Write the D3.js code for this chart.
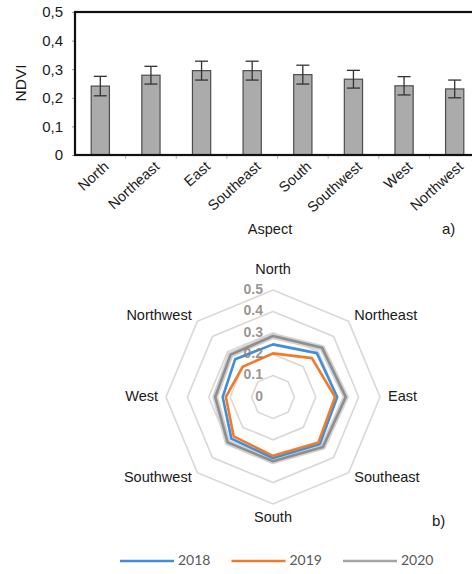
<!DOCTYPE html>
<html>
<head>
<meta charset="utf-8">
<script src="https://cdn.jsdelivr.net/npm/d3@7/dist/d3.min.js"></script>
<style>
  html, body { margin: 0; padding: 0; background: #ffffff; }
  svg { display: block; }
</style>
</head>
<body>
<svg id="fig" width="472" height="574"></svg>
<script>
// Aspect classes shared by both panels
const aspects = ["North", "Northeast", "East", "Southeast", "South", "Southwest", "West", "Northwest"];

// Panel a) mean NDVI per aspect with error bars
const ndviMean = [0.241, 0.279, 0.295, 0.295, 0.281, 0.265, 0.242, 0.231];
const ndviErr  = [0.034, 0.031, 0.033, 0.033, 0.033, 0.031, 0.032, 0.031];
const barTicks = [0, 0.1, 0.2, 0.3, 0.4, 0.5];

// Panel b) NDVI per aspect by year
const years = ["2018", "2019", "2020"];
const ndvi2018 = [0.246, 0.290, 0.300, 0.310, 0.285, 0.275, 0.235, 0.250];
const ndvi2019 = [0.204, 0.257, 0.290, 0.300, 0.275, 0.260, 0.220, 0.200];
const ndvi2020 = [0.285, 0.325, 0.340, 0.330, 0.300, 0.300, 0.270, 0.280];
const radarTicks = [0, 0.1, 0.2, 0.3, 0.4, 0.5];

const svg = d3.select("#fig");
const FONT = "'Liberation Sans', Arial, sans-serif";

/* ---------- panel a) bar chart ---------- */
const a = { left: 75, right: 480, top: 12, bottom: 155 };
const x = d3.scaleBand().domain(aspects).range([a.left, a.right])
  .paddingInner(0.64).paddingOuter(0.32);
const y = d3.scaleLinear().domain([0, 0.5]).range([a.bottom, a.top]);
const commaFmt = d3.formatLocale({ decimal: ",", thousands: " ", grouping: [3], currency: ["", ""] }).format(".1f");

const gA = svg.append("g");

// y axis labels and small ticks
const yAxis = d3.axisLeft(y).tickValues(barTicks).tickSize(3).tickPadding(9)
  .tickFormat(d => d === 0 ? "0" : commaFmt(d));
const gy = gA.append("g").attr("transform", `translate(${a.left},0)`).call(yAxis);
gy.select(".domain").remove();
gy.selectAll(".tick line").attr("stroke", "#9a9a9a");
gy.selectAll(".tick text").attr("font-family", FONT).attr("font-size", 15).attr("fill", "#1a1a1a");

// faint x ticks between categories
gA.selectAll("line.xt").data(aspects.slice(1)).join("line")
  .attr("class", "xt")
  .attr("x1", c => x(c) - (x.step() - x.bandwidth()) / 2)
  .attr("x2", c => x(c) - (x.step() - x.bandwidth()) / 2)
  .attr("y1", a.bottom).attr("y2", a.bottom + 4)
  .attr("stroke", "#bbbbbb").attr("stroke-width", 1);

// bars
gA.selectAll("rect.bar").data(aspects).join("rect")
  .attr("class", "bar")
  .attr("x", c => x(c))
  .attr("y", (c, i) => y(ndviMean[i]))
  .attr("width", x.bandwidth())
  .attr("height", (c, i) => a.bottom - y(ndviMean[i]))
  .attr("fill", "#ababab").attr("stroke", "#4d4d4d").attr("stroke-width", 1.2);

// error bars
const eb = gA.selectAll("g.err").data(aspects).join("g").attr("class", "err")
  .attr("transform", c => `translate(${x(c) + x.bandwidth() / 2},0)`);
eb.append("line")
  .attr("y1", (c, i) => y(ndviMean[i] + ndviErr[i]))
  .attr("y2", (c, i) => y(ndviMean[i] - ndviErr[i]))
  .attr("stroke", "#333").attr("stroke-width", 1.3);
[1, -1].forEach(s => {
  eb.append("line")
    .attr("x1", -6.5).attr("x2", 6.5)
    .attr("y1", (c, i) => y(ndviMean[i] + s * ndviErr[i]))
    .attr("y2", (c, i) => y(ndviMean[i] + s * ndviErr[i]))
    .attr("stroke", "#333").attr("stroke-width", 1.3);
});

// frame
gA.append("rect")
  .attr("x", a.left).attr("y", a.top)
  .attr("width", a.right - a.left).attr("height", a.bottom - a.top)
  .attr("fill", "none").attr("stroke", "#111").attr("stroke-width", 2.2);

// category labels
gA.selectAll("text.xl").data(aspects).join("text")
  .attr("class", "xl")
  .attr("transform", c => `translate(${x(c) + x.bandwidth() / 2 + 7},${a.bottom + 10}) rotate(-42)`)
  .attr("text-anchor", "end")
  .attr("dominant-baseline", "middle")
  .attr("font-family", FONT).attr("font-size", 14.5).attr("fill", "#1a1a1a")
  .text(c => c);

gA.append("text").attr("x", 270).attr("y", 234).attr("text-anchor", "middle")
  .attr("font-family", FONT).attr("font-size", 14.5).attr("fill", "#1a1a1a").text("Aspect");
gA.append("text").attr("x", 442).attr("y", 234)
  .attr("font-family", FONT).attr("font-size", 15).attr("fill", "#1a1a1a").text("a)");
gA.append("text").attr("transform", "translate(26,83) rotate(-90)").attr("text-anchor", "middle")
  .attr("font-family", FONT).attr("font-size", 15.5).attr("fill", "#1a1a1a").text("NDVI");

/* ---------- panel b) radar chart ---------- */
const cx = 273, cy = 397;
const r = d3.scaleLinear().domain([0, 0.5]).range([0, 107]);
const ang = d3.scaleLinear().domain([0, aspects.length]).range([0, 2 * Math.PI]);
const pt = (i, v) => [cx + r(v) * Math.sin(ang(i)), cy - r(v) * Math.cos(ang(i))];

const gB = svg.append("g");

// rings
radarTicks.filter(t => t > 0).forEach(t => {
  gB.append("path")
    .attr("d", d3.line()(aspects.map((c, i) => pt(i, t))) + "Z")
    .attr("fill", "none").attr("stroke", "#ddd7d3").attr("stroke-width", 1.6);
});

// series
const seriesVals = [ndvi2018, ndvi2019, ndvi2020];
const seriesCol = ["#3d8fdc", "#f07b2c", "#8e8e8e"];
const drawOrder = [2, 0, 1];
// soft halo under the 2020 line
gB.append("path")
  .attr("d", d3.line()(ndvi2020.map((v, i) => pt(i, v))) + "Z")
  .attr("fill", "none").attr("stroke", "#d2d2d2").attr("stroke-width", 6).attr("stroke-linejoin", "round");
drawOrder.forEach(k => {
  gB.append("path")
    .attr("d", d3.line()(seriesVals[k].map((v, i) => pt(i, v))) + "Z")
    .attr("fill", "none").attr("stroke", seriesCol[k]).attr("stroke-width", 2.6)
    .attr("stroke-linejoin", "round");
});

// radial tick labels
gB.selectAll("text.rt").data(radarTicks).join("text")
  .attr("class", "rt")
  .attr("x", cx - 10).attr("y", t => cy - r(t))
  .attr("text-anchor", "end").attr("dominant-baseline", "middle")
  .attr("font-family", FONT).attr("font-size", 14).attr("font-weight", "bold")
  .attr("fill", "#8a817c").attr("fill-opacity", 0.85)
  .text(t => d3.format(".1f")(t).replace(/^0\.0$/, "0"));

// category labels around the radar
gB.selectAll("text.cl").data(aspects).join("text")
  .attr("class", "cl")
  .each(function (c, i) {
    const s = Math.sin(ang(i)), co = Math.cos(ang(i));
    const rr = (i === 0) ? 127 : (i === 4 ? 121 : 115);
    d3.select(this)
      .attr("x", cx + rr * s).attr("y", cy - rr * co)
      .attr("text-anchor", Math.abs(s) < 0.01 ? "middle" : (s > 0 ? "start" : "end"));
  })
  .attr("dominant-baseline", "middle")
  .attr("font-family", FONT).attr("font-size", 14.5).attr("fill", "#1a1a1a")
  .text(c => c);

gB.append("text").attr("x", 432).attr("y", 526)
  .attr("font-family", FONT).attr("font-size", 15).attr("fill", "#1a1a1a").text("b)");

// legend
const legX = d3.scalePoint().domain(years).range([120, 343]);
const lg = gB.selectAll("g.leg").data(years).join("g").attr("class", "leg")
  .attr("transform", d => `translate(${legX(d)},561)`);
lg.append("line").attr("x1", 0).attr("x2", 54)
  .attr("stroke", (d, i) => i === 2 ? "#a5a5a5" : seriesCol[i]).attr("stroke-width", 2.4);
lg.append("text").attr("x", 58).attr("dominant-baseline", "middle")
  .attr("font-family", "Lato, 'Open Sans', sans-serif").attr("font-size", 14).attr("fill", "#595959")
  .text(d => d);
</script>
</body>
</html>
